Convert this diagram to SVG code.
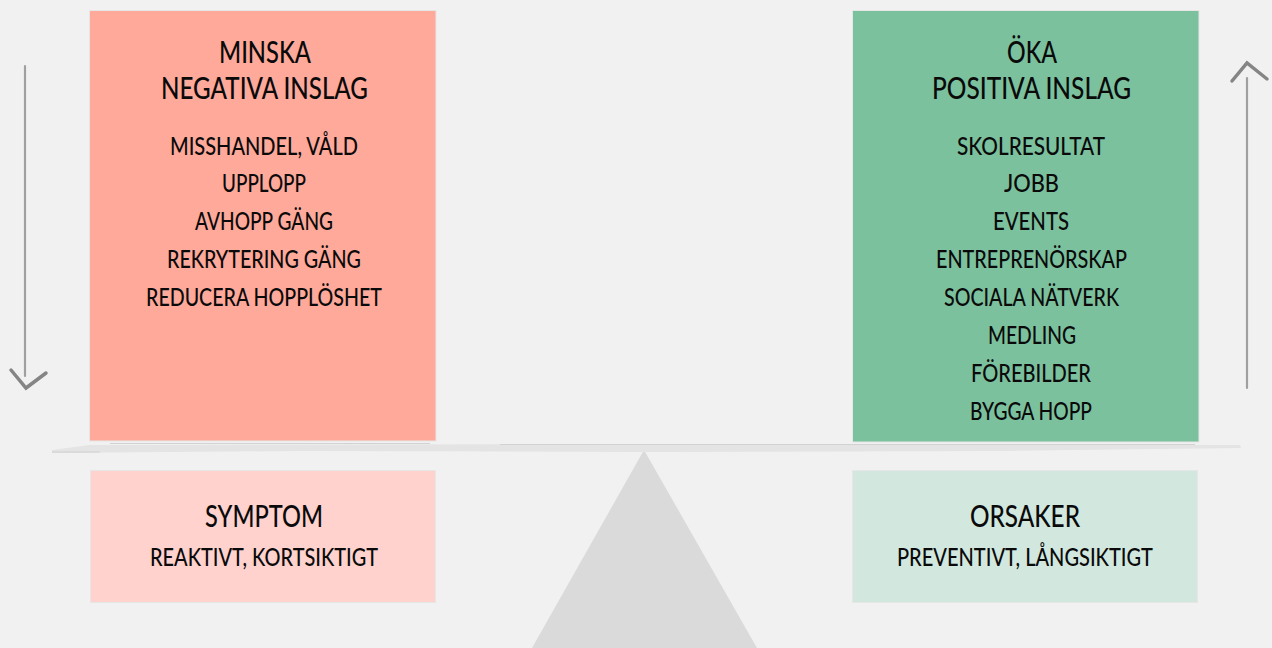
<svg xmlns="http://www.w3.org/2000/svg" width="1272" height="648" viewBox="0 0 1272 648">
<defs>
<filter id="soft" filterUnits="userSpaceOnUse" x="0" y="0" width="1272" height="648"><feGaussianBlur stdDeviation="0.600"/></filter>
</defs>
<style>
text{font-family:"Lato","Open Sans","Liberation Sans",sans-serif;fill:#0a0a0a;font-weight:500}
.t{font-size:31px}
.h{font-size:31px}
.b{font-size:25px}
.frame{stroke:#e6e6e6;stroke-width:1}
.shaft{fill:none;stroke:#a0a0a0;stroke-width:2.200;stroke-linecap:round;filter:url(#soft)}
.head{fill:none;stroke:#858585;stroke-width:3.500;stroke-linecap:round;stroke-linejoin:miter;filter:url(#soft)}
</style>
<rect width="1272" height="648" fill="#f1f1f1"/>
<g id="fulcrum"><polygon points="644,450 757,648 532,648" fill="#dadada"/></g>
<g id="beam">
<polygon points="90,445 640,444 1240,445 1241,448 1000,451 640,452 300,451 52,453 52,450" fill="#e4e4e4" filter="url(#soft)"/>
<path d="M110 443.500H430M500 444.500H1195" stroke="#d2d2d2" stroke-width="1" fill="none"/>
<path d="M52 452H100" stroke="#d0d0d0" stroke-width="1" fill="none"/>
</g>
<g id="minska">
<rect class="frame" x="89.500" y="10.500" width="346.500" height="430.500" fill="#ffa99a"/>
<text class="t" x="219" y="63" textLength="92" lengthAdjust="spacingAndGlyphs">MINSKA</text>
<text class="t" x="161" y="99" textLength="207" lengthAdjust="spacingAndGlyphs">NEGATIVA INSLAG</text>
<text class="b" x="170" y="155" textLength="188" lengthAdjust="spacingAndGlyphs">MISSHANDEL, VÅLD</text>
<text class="b" x="222" y="192" textLength="84" lengthAdjust="spacingAndGlyphs">UPPLOPP</text>
<text class="b" x="195" y="230" textLength="138" lengthAdjust="spacingAndGlyphs">AVHOPP GÄNG</text>
<text class="b" x="167" y="268" textLength="194" lengthAdjust="spacingAndGlyphs">REKRYTERING GÄNG</text>
<text class="b" x="146" y="306" textLength="236" lengthAdjust="spacingAndGlyphs">REDUCERA HOPPLÖSHET</text>
</g>
<g id="oka">
<rect class="frame" x="852.500" y="10.500" width="346.500" height="431.500" fill="#7cc19e"/>
<text class="t" x="1007" y="63" textLength="50" lengthAdjust="spacingAndGlyphs">ÖKA</text>
<text class="t" x="932" y="99" textLength="199" lengthAdjust="spacingAndGlyphs">POSITIVA INSLAG</text>
<text class="b" x="957" y="155" textLength="148" lengthAdjust="spacingAndGlyphs">SKOLRESULTAT</text>
<text class="b" x="1004" y="192" textLength="55" lengthAdjust="spacingAndGlyphs">JOBB</text>
<text class="b" x="993" y="230" textLength="76" lengthAdjust="spacingAndGlyphs">EVENTS</text>
<text class="b" x="936" y="268" textLength="191" lengthAdjust="spacingAndGlyphs">ENTREPRENÖRSKAP</text>
<text class="b" x="944" y="306" textLength="175" lengthAdjust="spacingAndGlyphs">SOCIALA NÄTVERK</text>
<text class="b" x="988" y="344" textLength="88" lengthAdjust="spacingAndGlyphs">MEDLING</text>
<text class="b" x="971" y="382" textLength="120" lengthAdjust="spacingAndGlyphs">FÖREBILDER</text>
<text class="b" x="970" y="420" textLength="122" lengthAdjust="spacingAndGlyphs">BYGGA HOPP</text>
</g>
<g id="symptom">
<rect class="frame" x="90.500" y="470.500" width="345" height="132" fill="#ffd2cd"/>
<text class="h" x="205" y="527" textLength="118" lengthAdjust="spacingAndGlyphs">SYMPTOM</text>
<text class="b" x="150" y="566" textLength="228" lengthAdjust="spacingAndGlyphs">REAKTIVT, KORTSIKTIGT</text>
</g>
<g id="orsaker">
<rect class="frame" x="852.500" y="470.500" width="345" height="132" fill="#d2e8df"/>
<text class="h" x="970" y="527" textLength="110" lengthAdjust="spacingAndGlyphs">ORSAKER</text>
<text class="b" x="897" y="566" textLength="256" lengthAdjust="spacingAndGlyphs">PREVENTIVT, LÅNGSIKTIGT</text>
</g>
<g id="connectors">
<path class="shaft" d="M25 66V376"/>
<path class="head" d="M11 370L26 388L46 373"/>
<path class="shaft" d="M1247 388V78"/>
<path class="head" d="M1232 81L1247 63L1267 79"/>
</g>
</svg>
